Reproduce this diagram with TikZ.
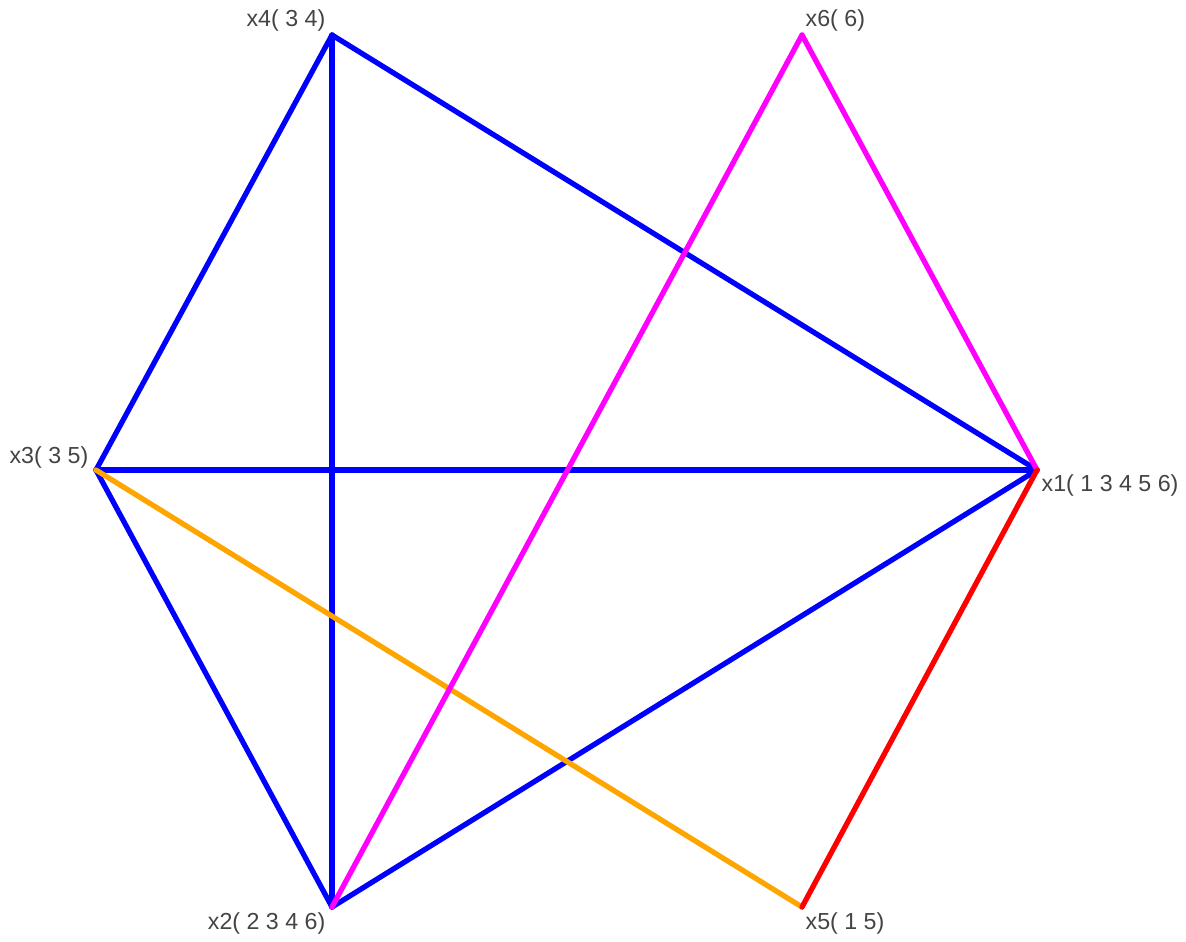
\documentclass[tikz,border=0pt]{standalone}
\usepackage{fontspec}
\setmainfont{Liberation Sans}
\usepackage{xcolor}
\usepackage{tikz}
\usetikzlibrary{positioning}

\definecolor{edgeblue}{RGB}{0,0,255}
\definecolor{edgemag}{RGB}{255,0,255}
\definecolor{edgeorange}{RGB}{255,165,0}
\definecolor{edgered}{RGB}{255,0,0}
\definecolor{labgray}{RGB}{68,68,68}

\begin{document}
\begin{tikzpicture}[x=0.01cm,y=-0.01cm,
    vlabel/.style={font=\fontsize{6.6}{7}\selectfont,text=labgray,inner sep=0pt},
    edge/.style={line width=1.5pt,line cap=round,line join=round}]
  % 1 unit = 1 px of the 1186x941 frame, y downwards
  \useasboundingbox (0,0) rectangle (1186,941);
  % vertices
  \coordinate (x1) at (1037,470);
  \coordinate (x2) at (332,907);
  \coordinate (x3) at (96,470);
  \coordinate (x4) at (332,35);
  \coordinate (x5) at (802,907);
  \coordinate (x6) at (802,35);
  % edges
  \draw[edge,edgeblue] (x4) -- (x3);
  \draw[edge,edgeblue] (x4) -- (x2);
  \draw[edge,edgeblue] (x4) -- (x1);
  \draw[edge,edgeblue] (x3) -- (x1);
  \draw[edge,edgeblue] (x3) -- (x2);
  \draw[edge,edgeblue] (x2) -- (x1);
  \draw[edge,edgeorange] (x3) -- (x5);
  \draw[edge,edgemag] (x6) -- (x2);
  \draw[edge,edgemag] (x6) -- (x1);
  \draw[edge,edgered] (x1) -- (x5);
  % labels
  \node[vlabel,anchor=south east] (l4) at ([shift={(-6,-3)}]x4) {x4( 3 4)};
  \node[vlabel,anchor=south west] (l6) at ([shift={(3,-3)}]x6) {x6( 6)};
  \node[vlabel,anchor=south east] (l3) at ([shift={(-7,-1)}]x3) {x3( 3 5)};
  \node[vlabel,anchor=north west] (l1) at ([shift={(4,4)}]x1) {x1( 1 3 4 5 6)};
  \node[vlabel,anchor=north east] (l2) at ([shift={(-6,5)}]x2) {x2( 2 3 4 6)};
  \node[vlabel,anchor=north west] (l5) at ([shift={(3,5)}]x5) {x5( 1 5)};
\end{tikzpicture}
\end{document}
